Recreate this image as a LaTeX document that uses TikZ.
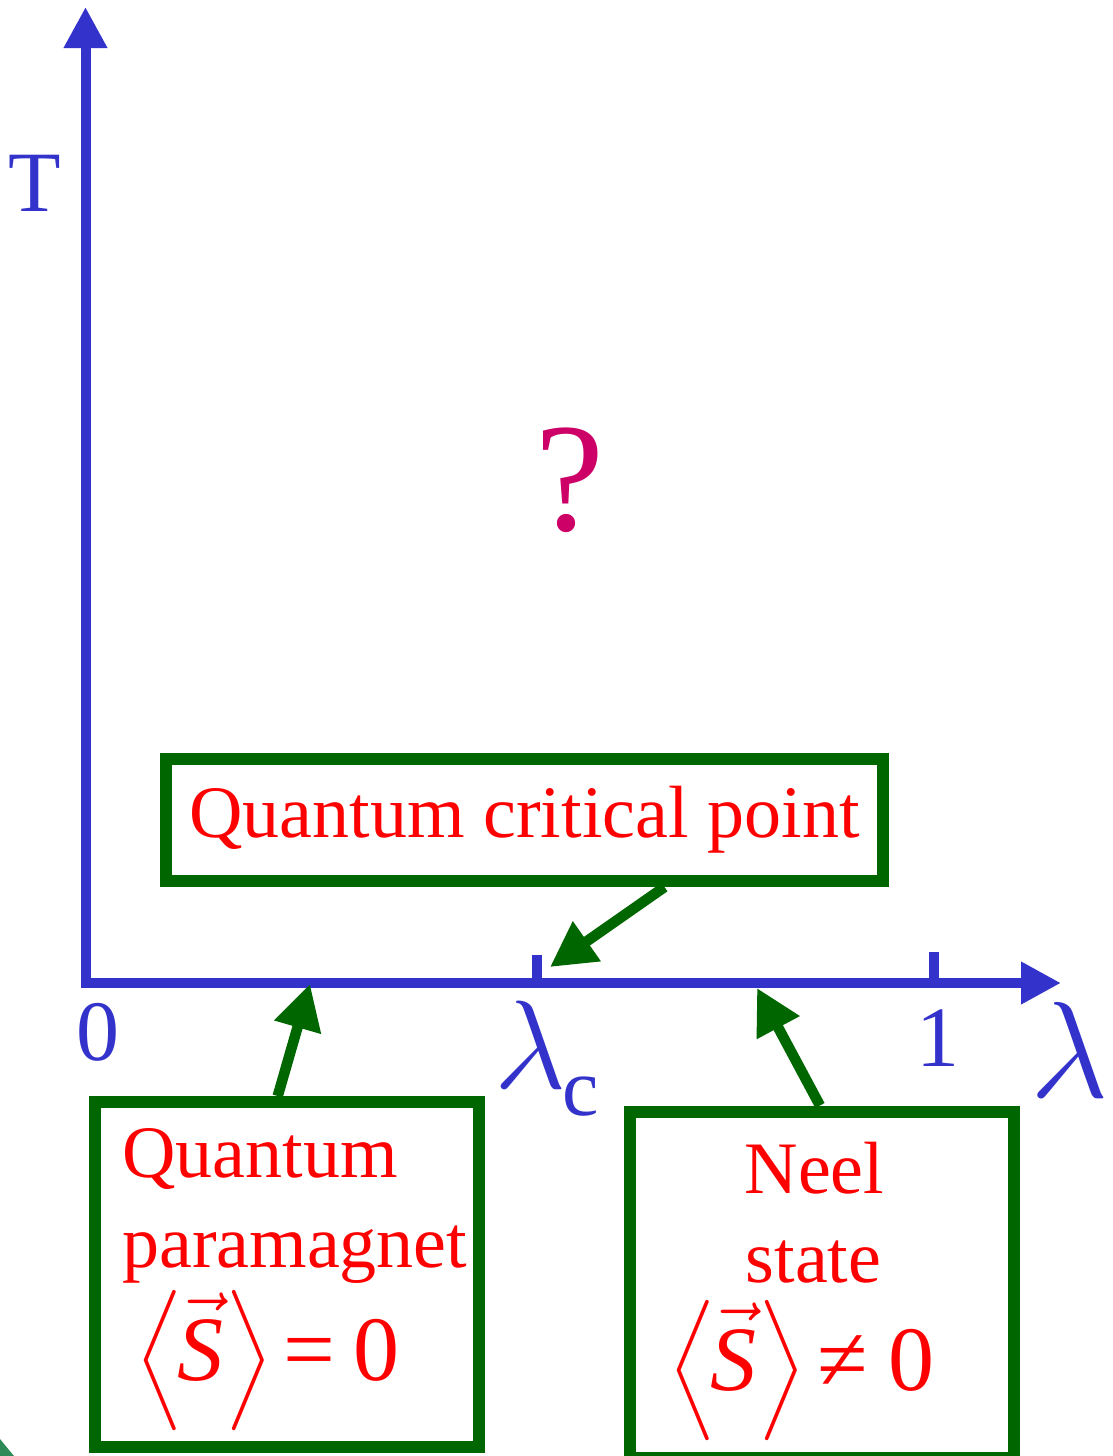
\documentclass[tikz,border=0pt]{standalone}
\usepackage{fix-cm}
\usepackage{exscale}
\usepackage{amsmath}
\usepackage{fontspec}
\setmainfont{Liberation Serif}
\DeclareFontShape{OMX}{cmex}{m}{n}{<-7.5> cmex7 <7.5-8.5> cmex8 <8.5-9.5> cmex9 <9.5-> cmex10}{}
\usetikzlibrary{arrows.meta,calc}
\definecolor{axisblue}{HTML}{3333CC}
\definecolor{boxgreen}{HTML}{006600}
\definecolor{txtred}{HTML}{FF0000}
\definecolor{qmag}{HTML}{CC0066}
\definecolor{scrap}{HTML}{2E8B57}
\newcommand{\fsz}[1]{\fontsize{#1}{#1}\selectfont}
\newcommand{\bigstrut}{\vrule height 1.08em depth 0.58em width 0pt}
\newcommand{\spinavg}{{\fsz{78}\nulldelimiterspace=0pt$\left\langle\bigstrut\right.$}\kern-5pt$\vec{\mbox{\itshape S}}$\kern2pt{\fsz{78}\nulldelimiterspace=0pt$\left.\bigstrut\right\rangle$}}
\begin{document}
\begin{tikzpicture}[x=1pt,y=-1pt,
  axis/.style={draw=axisblue,line width=10pt},
  lab/.style={text=axisblue,inner sep=0pt,anchor=base},
  statebox/.style={draw=boxgreen,line width=12pt,inner sep=0pt},
  boxtext/.style={text=txtred,inner sep=0pt,font=\fsz{74}},
  formula/.style={text=txtred,inner sep=0pt,font=\fsz{92}},
  pointer/.style={draw=boxgreen,line width=10.5pt,-{Triangle[length=45pt,width=46pt]}},
]
\useasboundingbox (0,0) rectangle (1112,1456);
\clip (0,0) rectangle (1112,1456);

% axes
\coordinate (O) at (85.5,983);
\coordinate (yTip) at (85.5,7);
\coordinate (xTip) at (1061,983);
\draw[axis,{Triangle[length=41pt,width=41pt]}-{Triangle[length=40pt,width=40pt]}] (yTip) -- (O) -- (xTip);
\draw[axis] (537,983) -- (537,955);
\draw[axis] (933.5,983) -- (933.5,952);

% axis labels
\node[lab,font=\fsz{86}] (Tlab) at (35,211) {T};
\node[lab,font=\fsz{86}] (zero) at (98,1060) {0};
\node[lab,font=\fsz{86}] (one) at (938,1066) {1};
\node[lab,anchor=base west,font=\fsz{126}] (lamc) at (494,1088) {$\lambda$};
\node[lab,anchor=base west,font=\fsz{82}] (csub) at (562,1115) {c};
\node[lab,anchor=base west,font=\fsz{137}] (lam) at (1030,1097) {$\lambda$};

% question mark
\node[text=qmag,inner sep=0pt,anchor=base,font=\fsz{155}] (qm) at (570,530) {?};

% quantum critical point box
\node[statebox,minimum width=717pt,minimum height=122pt,text=txtred,font=\fsz{74}] (qcp) at (524.5,820) {Quantum critical point\hspace{8pt}};

% quantum paramagnet box
\node[statebox,minimum width=384pt,minimum height=345pt] (qp) at (287,1274.5) {};
\node[boxtext,anchor=base west] (qpA) at (122,1177) {Quantum};
\node[boxtext,anchor=base west] (qpB) at (122,1267) {paramagnet};
\node[formula,anchor=base west] (qpC) at (135,1380) {\spinavg\hspace{10pt}=\hspace{18pt}0};

% Neel state box
\node[statebox,minimum width=384pt,minimum height=346.5pt] (ns) at (821.5,1284.75) {};
\node[boxtext] (nsA) at (814.5,1193) [anchor=base] {Neel};
\node[boxtext] (nsB) at (813.5,1282) [anchor=base] {state};
\node[formula,anchor=base west] (nsC) at (668,1390) {\spinavg\hspace{11pt}≠\hspace{20pt}0};

% pointers
\coordinate (qcpTip) at (550,967);
\coordinate (qpTip) at (310,984);
\coordinate (nsTip) at (757,988);
\draw[pointer] ($(qcp.south west)!0.692!(qcp.south east)$) -- (qcpTip);
\draw[pointer] ($(qp.north west)!0.4766!(qp.north east)$) -- (qpTip);
\draw[pointer] ($(ns.north west)!0.496!(ns.north east)$) -- (nsTip);

% scrap in corner
\fill[scrap] (0,1439) -- (14,1456) -- (0,1456) -- cycle;
\end{tikzpicture}
\end{document}
